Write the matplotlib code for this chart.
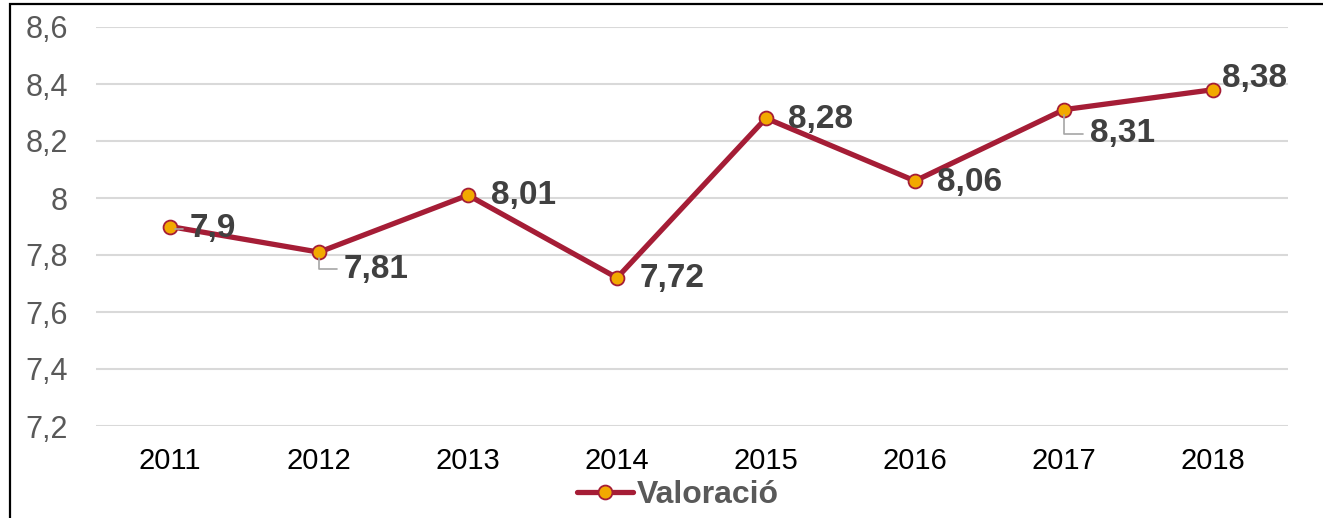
import matplotlib
matplotlib.use("Agg")
import matplotlib.pyplot as plt
from matplotlib.patches import Rectangle

years = ["2011", "2012", "2013", "2014", "2015", "2016", "2017", "2018"]
values = [7.9, 7.81, 8.01, 7.72, 8.28, 8.06, 8.31, 8.38]
labels = ["7,9", "7,81", "8,01", "7,72", "8,28", "8,06", "8,31", "8,38"]
yticks = [7.2, 7.4, 7.6, 7.8, 8.0, 8.2, 8.4, 8.6]
ytick_labels = ["7,2", "7,4", "7,6", "7,8", "8", "8,2", "8,4", "8,6"]
series_name = "Valoració"

# label offsets in pixels (dx, dy) and whether a leader line is drawn
offsets = [(20, -2), (25, -17), (23, 0), (23, -1), (22, -1), (22, -2), (26, -24), (9, 11)]
leaders = [True, True, False, False, False, False, True, False]

plt.rcParams['font.family'] = ['Liberation Sans', 'DejaVu Sans']

fig = plt.figure(figsize=(13.23, 5.18), dpi=100)
ax = fig.add_axes([95.5 / 1323, 1 - 426 / 518, 1192 / 1323, 399 / 518])

line_color = "#A51D36"
marker_face = "#F2A900"

x = list(range(len(years)))
ax.plot(x, values, color=line_color, lw=3.8, marker="o", ms=10,
        mfc=marker_face, mec=line_color, mew=1.3, label=series_name, zorder=3,
        solid_capstyle="round")

ax.set_xlim(-0.5, len(years) - 0.5)
ax.set_ylim(7.2, 8.6)
ax.set_yticks(yticks)
ax.set_yticklabels(ytick_labels, color="#595959", fontsize=22)
ax.set_xticks(x)
ax.set_xticklabels(years, color="black", fontsize=21)
ax.tick_params(axis="both", length=0)
ax.tick_params(axis="y", pad=20)
ax.tick_params(axis="x", pad=15)
for s in ax.spines.values():
    s.set_visible(False)
ax.grid(axis="y", color="#D9D9D9", lw=1.5)
ax.set_axisbelow(True)

for i, (v, lab) in enumerate(zip(values, labels)):
    dx, dy = offsets[i]
    if leaders[i]:
        ax.annotate(lab, xy=(i, v), xytext=(dx, dy), textcoords="offset pixels",
                    ha="left", va="center", fontsize=24, fontweight="bold",
                    color="#404040", zorder=4,
                    arrowprops=dict(arrowstyle="-", color="#A6A6A6", lw=1.2,
                                    connectionstyle="angle,angleA=0,angleB=90,rad=0",
                                    shrinkA=3, shrinkB=4, relpos=(0, 0.5)))
    else:
        ax.annotate(lab, xy=(i, v), xytext=(dx, dy), textcoords="offset pixels",
                    ha="left", va="center", fontsize=24, fontweight="bold",
                    color="#404040", zorder=4)

leg = fig.legend(loc="center", bbox_to_anchor=(678 / 1323, 1 - 495 / 518),
                 frameon=False, handlelength=1.75, handletextpad=0.12,
                 prop={"size": 23, "weight": "bold"})
for t in leg.get_texts():
    t.set_color("#595959")

fig.patches.append(Rectangle((10 / 1323, -0.1), 1.2, 1 - 4 / 518 + 0.1,
                             transform=fig.transFigure, fill=False,
                             edgecolor="black", lw=1.6, clip_on=False))

fig.savefig("out.png", dpi=100)
